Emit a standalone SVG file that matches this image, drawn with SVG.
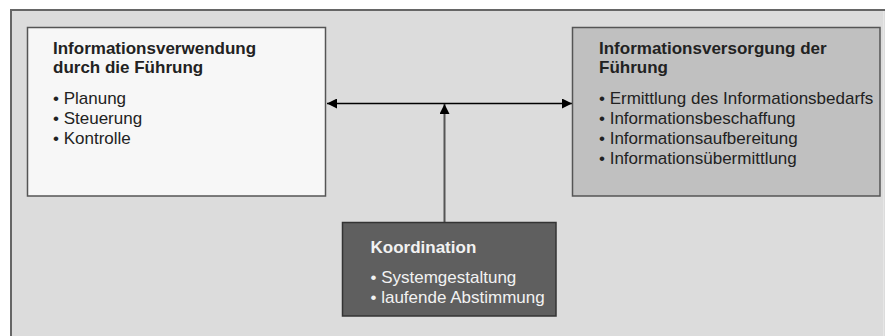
<svg xmlns="http://www.w3.org/2000/svg" width="885" height="336" viewBox="0 0 885 336">
  <style>
    text { font-family: "Liberation Sans", Arial, sans-serif; font-size: 17px; }
    .title { font-weight: bold; }
    .dark { fill: #222; }
    .light { fill: #f2f2f2; }
    .box { stroke-width: 1.5; }
  </style>
  <defs>
    <marker id="tip" viewBox="0 0 10 10" refX="10" refY="5" markerWidth="10" markerHeight="10" markerUnits="userSpaceOnUse" orient="auto-start-reverse">
      <path d="M0,0 L10,5 L0,10 Z" fill="#000"/>
    </marker>
  </defs>

  <!-- background frame -->
  <g id="frame">
    <rect x="11" y="10" width="874" height="330" fill="#dcdcdc"/>
    <line x1="10" y1="10" x2="885" y2="10" stroke="#666" stroke-width="2"/>
    <line x1="11" y1="9" x2="11" y2="336" stroke="#666" stroke-width="2"/>
    <line x1="883.5" y1="11" x2="883.5" y2="336" stroke="#e6e6e6" stroke-width="1"/>
  </g>

  <!-- connectors -->
  <g id="connectors">
    <line x1="444.5" y1="222" x2="444.5" y2="104" stroke="#555" stroke-width="2" marker-end="url(#tip)"/>
    <line x1="327" y1="103.5" x2="572" y2="103.5" stroke="#000" stroke-width="1.5" marker-start="url(#tip)" marker-end="url(#tip)"/>
  </g>

  <g id="verwendung">
    <rect class="box" x="27.5" y="27.5" width="298" height="168.5" fill="#f7f7f7" stroke="#555"/>
    <text class="title dark" x="53" y="53.5">Informationsverwendung</text>
    <text class="title dark" x="53" y="72.5">durch die Führung</text>
    <text class="dark" x="53" y="103.5">• Planung</text>
    <text class="dark" x="53" y="123.5">• Steuerung</text>
    <text class="dark" x="53" y="143.5">• Kontrolle</text>
  </g>

  <g id="versorgung">
    <rect class="box" x="572.5" y="27.5" width="307.5" height="168.5" fill="#c0c0c0" stroke="#555"/>
    <text class="title dark" x="599" y="53.5">Informationsversorgung der</text>
    <text class="title dark" x="599" y="72.5">Führung</text>
    <text class="dark" x="599" y="103.5">• Ermittlung des Informationsbedarfs</text>
    <text class="dark" x="599" y="123.5">• Informationsbeschaffung</text>
    <text class="dark" x="599" y="143.5">• Informationsaufbereitung</text>
    <text class="dark" x="599" y="163.5">• Informationsübermittlung</text>
  </g>

  <g id="koordination">
    <rect class="box" x="342.5" y="222.5" width="213.5" height="93.5" fill="#5f5f5f" stroke="#333"/>
    <text class="title light" x="370.5" y="252.5">Koordination</text>
    <text class="light" x="370.5" y="282.5">• Systemgestaltung</text>
    <text class="light" x="370.5" y="302.5">• laufende Abstimmung</text>
  </g>
</svg>
